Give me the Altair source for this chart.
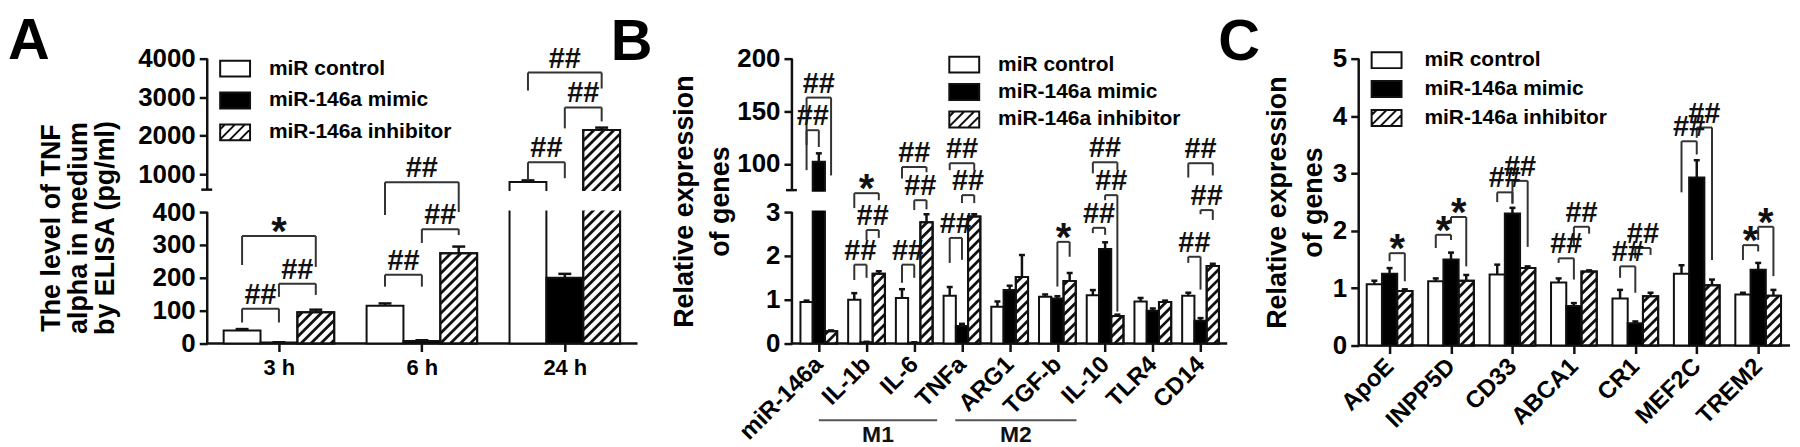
import json
import numpy as np
import pandas as pd
import altair as alt

FONT = "Liberation Sans"
INK = "#111111"
LINE = "#333333"
GROUPS = ["miR control", "miR-146a mimic", "miR-146a inhibitor"]

# ---------------- Panel A : TNF alpha by ELISA ----------------
A_cats = ["3 h", "6 h", "24 h"]
A_control = [40, 115, 800]
A_control_err = [4, 7, 40]
A_mimic = [3, 8, 200]
A_mimic_err = [1, 2, 12]
A_inhib = [95, 275, 2150]
A_inhib_err = [8, 20, 60]
A_yticks = [0, 100, 200, 300, 400, 1000, 2000, 3000, 4000]
A_ytitle = ["The level of TNF", "alpha in medium", "by ELISA (pg/ml)"]
# (category, group from, group to, bracket level, leg end from, leg end to, mark)
A_brackets = [
    (0, 0, 1, 106, 64, 64, "##"),
    (0, 1, 2, 182, 142, 148, "##"),
    (0, 0, 2, 327, 239, 233, "*"),
    (1, 0, 1, 209, 173, 173, "##"),
    (1, 1, 2, 348, 306, 330, "##"),
    (1, 0, 2, 794, 391, 400, "##"),
    (2, 0, 1, 1311, 846, 897, "##"),
    (2, 1, 2, 2733, 2190, 2371, "##"),
    (2, 0, 2, 3639, 3173, 3225, "##"),
]

# ---------------- Panel B : macrophage genes ----------------
B_cats = ["miR-146a", "IL-1b", "IL-6", "TNFa", "ARG1", "TGF-b", "IL-10", "TLR4", "CD14"]
B_control = [0.95, 1.0, 1.04, 1.09, 0.84, 1.07, 1.1, 0.96, 1.09]
B_control_err = [0.03, 0.15, 0.2, 0.2, 0.12, 0.05, 0.12, 0.08, 0.07]
B_mimic = [102, 0.03, 0.02, 0.4, 1.22, 1.03, 2.16, 0.75, 0.52]
B_mimic_err = [8, 0.01, 0.01, 0.05, 0.1, 0.05, 0.15, 0.05, 0.06]
B_inhib = [0.28, 1.59, 2.77, 2.9, 1.52, 1.43, 0.63, 0.95, 1.77]
B_inhib_err = [0.02, 0.06, 0.18, 0.05, 0.5, 0.18, 0.03, 0.03, 0.05]
B_yticks = [0, 1, 2, 3, 100, 150, 200]
B_ytitle = ["Relative expression", "of genes"]
B_brackets = [
    (0, 0, 2, 163, 94, 89, "##"),
    (0, 0, 1, 132, 118, 116, "##"),
    (1, 0, 2, 65, 16, 42, "*"),
    (1, 1, 2, 2.59, 2.36, 2.41, "##"),
    (1, 0, 1, 1.80, 1.45, 1.50, "##"),
    (2, 0, 2, 97, 86, 92, "##"),
    (2, 1, 2, 42, 9.5, 12, "##"),
    (2, 0, 1, 1.80, 1.39, 1.50, "##"),
    (3, 0, 2, 100.6, 94, 94, "##"),
    (3, 1, 2, 58.6, 32.5, 32.5, "##"),
    (3, 0, 1, 2.41, 1.84, 1.91, "##"),
    (5, 1, 2, 2.32, 1.30, 1.98, "*"),
    (6, 0, 2, 101.5, 91, 94, "##"),
    (6, 1, 2, 58.6, 42, 0.73, "##"),
    (6, 0, 1, 2.64, 2.52, 2.48, "##"),
    (8, 0, 2, 100.6, 87, 89, "##"),
    (8, 1, 2, 9.5, 2.95, 2.82, "##"),
    (8, 0, 1, 1.98, 1.84, 1.23, "##"),
]
B_subsets = ["M1", "M2"]
B_subset_from = [0.0, 2.86]
B_subset_to = [2.48, 5.40]

# ---------------- Panel C : AD risk genes ----------------
C_cats = ["ApoE", "INPP5D", "CD33", "ABCA1", "CR1", "MEF2C", "TREM2"]
C_control = [1.07, 1.12, 1.24, 1.1, 0.82, 1.25, 0.89]
C_control_err = [0.06, 0.05, 0.17, 0.07, 0.15, 0.15, 0.03]
C_mimic = [1.25, 1.5, 2.3, 0.69, 0.39, 2.93, 1.32]
C_mimic_err = [0.1, 0.12, 0.1, 0.05, 0.03, 0.3, 0.12]
C_inhib = [0.95, 1.13, 1.35, 1.29, 0.86, 1.05, 0.87]
C_inhib_err = [0.03, 0.1, 0.03, 0.02, 0.06, 0.1, 0.1]
C_yticks = [0, 1, 2, 3, 4, 5]
C_ytitle = ["Relative expression", "of genes"]
C_brackets = [
    (0, 1, 2, 1.61, 1.47, 1.12, "*"),
    (1, 0, 1, 1.93, 1.70, 1.84, "*"),
    (1, 1, 2, 2.24, 2.13, 1.38, "*"),
    (2, 0, 1, 2.67, 2.50, 2.47, "##"),
    (2, 1, 2, 2.87, 2.48, 1.72, "##"),
    (3, 0, 1, 1.52, 1.44, 1.15, "##"),
    (3, 1, 2, 2.07, 1.72, 1.95, "##"),
    (4, 0, 1, 1.38, 1.18, 0.92, "##"),
    (4, 1, 2, 1.70, 1.52, 1.58, "##"),
    (5, 0, 1, 3.56, 2.67, 3.33, "##"),
    (5, 1, 2, 3.80, 3.62, 1.49, "##"),
    (6, 0, 1, 1.75, 1.49, 1.64, "*"),
    (6, 1, 2, 2.07, 1.84, 1.21, "*"),
]

# ---------------- layout / style (not data) ----------------
# title_mark: (pixel offset left of the axis, pixel offset below the plot top) of the
# multi-line y title when it is drawn as a text mark instead of an axis title
GEO_A = dict(width=455, height=286, xdom=[-0.5017, 2.669], xaxis_end=2.5087, bw=0.2578,
             ydom=[0, 400, 600, 4000], yrng=[286, 154, 131.5, 0], gap=[413, 587],
             segments=[(0, 400), (600, 4000)], cap_px=13, ext=71, tpad=12, tlh=33,
             title_mark=(156, 170), letter_dx=-200, leg=dict(x=17, y=-1, offset=23, rowpad=8),
             xlab=dict(angle=0, align="center", baseline="top", pad=6, size=22))
GEO_B = dict(width=437, height=286, xdom=[-0.5637, 8.559], xaxis_end=8.559, bw=0.2568,
             ydom=[0, 3, 75, 200], yrng=[286, 154, 132, 0], gap=[8, 70],
             segments=[(0, 3), (75, 200)], cap_px=6, ext=53, tpad=5, tlh=36,
             title_mark=None, letter_dx=-182, leg=dict(x=162, y=-5, offset=23, rowpad=3.5),
             xlab=dict(angle=315, align="right", baseline="middle", pad=9, size=24))
GEO_C = dict(width=433, height=288, xdom=[-0.5027, 6.518], xaxis_end=6.518, bw=0.248,
             ydom=[0, 5], yrng=[288, 0], gap=None,
             segments=[(0, 5)], cap_px=6, ext=29, tpad=2, tlh=36,
             title_mark=None, letter_dx=-141, leg=dict(x=17, y=-9.5, offset=27, rowpad=5),
             xlab=dict(angle=315, align="right", baseline="middle", pad=9, size=24))

STRIPE_STEP = 10.0
TITLE_DY = 72.5
LETTER_SIZE = 58


def legend_paths():
    hw, hh = 1.5, 0.8
    rect = f"M{-hw},{-hh}H{hw}V{hh}H{-hw}Z"
    parts = [rect]
    c = -hw - hh + 0.5
    while c < hw + hh:
        xa = max(-hw, c - hh)
        xb = min(hw, c + hh)
        if xb - xa > 0.05:
            parts.append(f"M{xa:.3f},{c - xa:.3f}L{xb:.3f},{c - xb:.3f}")
        c += 1.0
    return rect, "".join(parts)


RECT_PATH, HATCH_PATH = legend_paths()


def y_inverse(G, p):
    ydom = np.array(G["ydom"], dtype=float)
    yrng = np.array(G["yrng"], dtype=float)
    if p > yrng[0]:  # below the baseline: extrapolate the first segment
        slope = (ydom[1] - ydom[0]) / (yrng[1] - yrng[0])
        return float(ydom[0] + (p - yrng[0]) * slope)
    return float(np.interp(p, yrng[::-1], ydom[::-1]))


def stripe_frame(bars, G):
    x0, x1 = G["xdom"]
    kx = G["width"] / (x1 - x0)
    ydom = np.array(G["ydom"], dtype=float)
    yrng = np.array(G["yrng"], dtype=float)

    def yp(v):
        return float(np.interp(v, ydom, yrng))

    rows = []
    for _, b in bars[bars.g == 2].iterrows():
        xl, xr = (b.xl - x0) * kx, (b.xr - x0) * kx
        yb, yt = yp(0), yp(min(b.v, ydom[-1]))
        k0 = int(np.ceil((xl + yt) / STRIPE_STEP))
        k1 = int(np.floor((xr + yb) / STRIPE_STEP))
        for k in range(k0, k1 + 1):
            c = k * STRIPE_STEP
            xa = max(xl, c - yb)
            xb = min(xr, c - yt)
            if xb - xa < 0.6:
                continue
            rows.append(dict(sx=x0 + xa / kx, sy=y_inverse(G, c - xa),
                             sx2=x0 + xb / kx, sy2=y_inverse(G, c - xb)))
    return pd.DataFrame(rows)


def make_panel(letter, G, cats, vals, errs, ticks, ytitle, brackets, subsets=None):
    W, H = G["width"], G["height"]
    x0, x1 = G["xdom"]
    kx = W / (x1 - x0)
    bw = G["bw"]
    cap = G["cap_px"] / 2 / kx
    xs = alt.Scale(domain=G["xdom"], nice=False, zero=False)
    ys = alt.Scale(domain=G["ydom"], range=G["yrng"], nice=False, zero=False)

    rows = []
    for i, c in enumerate(cats):
        for g in range(3):
            xc = i + (g - 1) * bw
            v = vals[g][i]
            e = errs[g][i]
            rows.append(dict(cat=c, g=g, xc=xc, xl=xc - bw / 2, xr=xc + bw / 2,
                             v=v, base=0.0, top=v + e, cl=xc - cap, cr=xc + cap))
    bars = pd.DataFrame(rows)

    xl = G["xlab"]
    xaxis = alt.Axis(
        values=list(range(len(cats))),
        labelExpr=f"{json.dumps(cats)}[round(datum.value)]",
        title=None, grid=False, domain=False,
        tickSize=8, tickWidth=2.5, tickColor=INK,
        labelFont=FONT, labelFontSize=xl["size"], labelFontWeight="bold", labelColor="black",
        labelAngle=xl["angle"], labelAlign=xl["align"], labelBaseline=xl["baseline"],
        labelPadding=xl["pad"], labelOverlap=False, labelFlush=False,
    )
    yargs = dict(
        values=ticks, format="d",
        titleFont=FONT, titleFontSize=27, titleFontWeight="bold",
        titleColor="black", titleLineHeight=G["tlh"], titlePadding=G["tpad"],
        minExtent=G["ext"], maxExtent=G["ext"], grid=False, domain=False,
        tickSize=8, tickWidth=2.5, tickColor=INK,
        labelFont=FONT, labelFontSize=26, labelFontWeight="bold", labelColor="black",
        labelPadding=4, labelOverlap=False, labelFlush=False,
    )
    yargs["title"] = None if G["title_mark"] is not None else ytitle
    yaxis = alt.Axis(**yargs)

    def X(f):
        return alt.X(f"{f}:Q", scale=xs, axis=xaxis)

    def Y(f):
        return alt.Y(f"{f}:Q", scale=ys, axis=yaxis)

    # axis lines (broken y axis drawn as separate segments)
    frame = [dict(fx=x0, fx2=G["xaxis_end"], fy=0.0, fy2=0.0)]
    for a, b in G["segments"]:
        frame.append(dict(fx=x0, fx2=x0, fy=a, fy2=b))
    for a, b in G["segments"][1:]:
        frame.append(dict(fx=x0 - 6 / kx, fx2=x0 + 5 / kx, fy=a, fy2=a))
    frame = pd.DataFrame(frame)

    layers = []
    layers.append(
        alt.Chart(frame).mark_rule(color=INK, strokeWidth=2.5)
        .encode(x=X("fx"), x2="fx2:Q", y=Y("fy"), y2="fy2:Q")
    )
    layers.append(
        alt.Chart(bars)
        .transform_calculate(fc="datum.g == 1 ? 'black' : 'white'")
        .mark_rect(stroke=INK, strokeWidth=2)
        .encode(x=X("xl"), x2="xr:Q", y=Y("v"), y2="base:Q",
                fill=alt.Fill("fc:N", scale=None))
    )
    stripes = stripe_frame(bars, G)
    layers.append(
        alt.Chart(stripes).mark_rule(color=INK, strokeWidth=2.8)
        .encode(x=X("sx"), x2="sx2:Q", y=Y("sy"), y2="sy2:Q")
    )
    layers.append(
        alt.Chart(bars[bars.g == 2]).mark_rect(fillOpacity=0, stroke=INK, strokeWidth=2)
        .encode(x=X("xl"), x2="xr:Q", y=Y("v"), y2="base:Q")
    )
    eb = bars[bars.top > bars.v]
    layers.append(
        alt.Chart(eb).mark_rule(color=INK, strokeWidth=2.5)
        .encode(x=X("xc"), y=Y("v"), y2="top:Q")
    )
    layers.append(
        alt.Chart(eb).mark_rule(color=INK, strokeWidth=2.5)
        .encode(x=X("cl"), x2="cr:Q", y=Y("top"))
    )
    if G["gap"] is not None:
        band = pd.DataFrame([dict(bx=x0 + 2 / kx, bx2=G["xaxis_end"],
                                  by=G["gap"][0], by2=G["gap"][1])])
        layers.append(
            alt.Chart(band).mark_rect(color="white", strokeWidth=0)
            .encode(x=X("bx"), x2="bx2:Q", y=Y("by"), y2="by2:Q")
        )

    lines, texts = [], []
    for (i, ga, gb, yl, la, lb, lab) in brackets:
        xa = i + (ga - 1) * bw
        xb = i + (gb - 1) * bw
        lines.append(dict(lx=xa, lx2=xb, ly=yl, ly2=yl))
        lines.append(dict(lx=xa, lx2=xa, ly=la, ly2=yl))
        lines.append(dict(lx=xb, lx2=xb, ly=lb, ly2=yl))
        texts.append(dict(tx=(xa + xb) / 2, ty=yl, label=lab))
    lines = pd.DataFrame(lines)
    texts = pd.DataFrame(texts)
    layers.append(
        alt.Chart(lines).mark_rule(color=LINE, strokeWidth=2)
        .encode(x=X("lx"), x2="lx2:Q", y=Y("ly"), y2="ly2:Q")
    )
    hashes = texts[texts.label == "##"]
    stars = texts[texts.label == "*"]
    if len(hashes):
        layers.append(
            alt.Chart(hashes).mark_text(font=FONT, fontSize=29, fontWeight="bold",
                                        baseline="alphabetic", align="center", dy=-5, color=INK)
            .encode(x=X("tx"), y=Y("ty"), text="label:N")
        )
    if len(stars):
        layers.append(
            alt.Chart(stars).mark_text(font=FONT, fontSize=40, fontWeight="bold",
                                       baseline="alphabetic", align="center", dy=9, color=INK)
            .encode(x=X("tx"), y=Y("ty"), text="label:N")
        )

    if G["title_mark"] is not None:
        dxp, dyp = G["title_mark"]
        tdf = pd.DataFrame([dict(tx=x0 - dxp / kx, ty=y_inverse(G, dyp),
                                 label="\n".join(ytitle))])
        layers.append(
            alt.Chart(tdf).mark_text(font=FONT, fontSize=27, fontWeight="bold", angle=270,
                                     lineBreak="\n", lineHeight=27, align="center",
                                     baseline="middle", color="black")
            .encode(x=X("tx"), y=Y("ty"), text="label:N")
        )

    if subsets is not None:
        names, fr, to = subsets
        sub = pd.DataFrame(dict(name=names, sx=fr, sx2=to,
                                mid=[(a + b) / 2 for a, b in zip(fr, to)],
                                ly=[-1.75] * len(names), ty=[-2.08] * len(names)))
        layers.append(
            alt.Chart(sub).mark_rule(color="#555555", strokeWidth=2)
            .encode(x=X("sx"), x2="sx2:Q", y=Y("ly"))
        )
        layers.append(
            alt.Chart(sub).mark_text(font=FONT, fontSize=23, fontWeight="bold",
                                     baseline="middle", align="center", color=INK)
            .encode(x=X("mid"), y=Y("ty"), text="name:N")
        )

    L = G["leg"]
    leg = alt.Legend(title=None, orient="none", legendX=L["x"], legendY=L["y"],
                     direction="vertical", padding=0,
                     labelFont=FONT, labelFontSize=21, labelFontWeight="bold",
                     labelColor="black", labelOffset=L["offset"], labelLimit=0,
                     labelBaseline="middle", rowPadding=L["rowpad"],
                     symbolSize=400, symbolStrokeColor=INK, symbolStrokeWidth=2,
                     symbolOpacity=1)
    legdf = pd.DataFrame(dict(series=GROUPS, lx=[x0 + 0.2] * 3,
                              ly=[G["ydom"][-1] * 5] * 3))
    layers.append(
        alt.Chart(legdf).mark_point(filled=True, opacity=1, clip=True, stroke=INK, strokeWidth=2)
        .encode(x=X("lx"), y=Y("ly"),
                fill=alt.Fill("series:N", sort=GROUPS,
                              scale=alt.Scale(domain=GROUPS, range=["white", "black", "white"]),
                              legend=leg),
                shape=alt.Shape("series:N", sort=GROUPS,
                                scale=alt.Scale(domain=GROUPS, range=[RECT_PATH, RECT_PATH, HATCH_PATH]),
                                legend=leg))
    )

    title = alt.TitleParams(letter, anchor="start", frame="group", fontSize=LETTER_SIZE, font=FONT,
                            fontWeight="bold", color="black", dx=G["letter_dx"], dy=TITLE_DY,
                            offset=0, baseline="alphabetic")
    return alt.layer(*layers).properties(width=W, height=H, title=title)


pA = make_panel("A", GEO_A, A_cats, [A_control, A_mimic, A_inhib],
                [A_control_err, A_mimic_err, A_inhib_err], A_yticks, A_ytitle, A_brackets)
pB = make_panel("B", GEO_B, B_cats, [B_control, B_mimic, B_inhib],
                [B_control_err, B_mimic_err, B_inhib_err], B_yticks, B_ytitle, B_brackets,
                subsets=(B_subsets, B_subset_from, B_subset_to))
pC = make_panel("C", GEO_C, C_cats, [C_control, C_mimic, C_inhib],
                [C_control_err, C_mimic_err, C_inhib_err], C_yticks, C_ytitle, C_brackets)

chart = (
    alt.hconcat(pA, pB, pC, spacing=132, bounds="flush")
    .resolve_scale(fill="independent", shape="independent")
    .resolve_legend(fill="independent", shape="independent")
    .properties(padding={"top": 4, "left": 0, "right": 0, "bottom": 0}, background="white")
    .configure_view(stroke=None)
)

chart.save("out.html", embed_options={"renderer": "svg", "actions": False})
